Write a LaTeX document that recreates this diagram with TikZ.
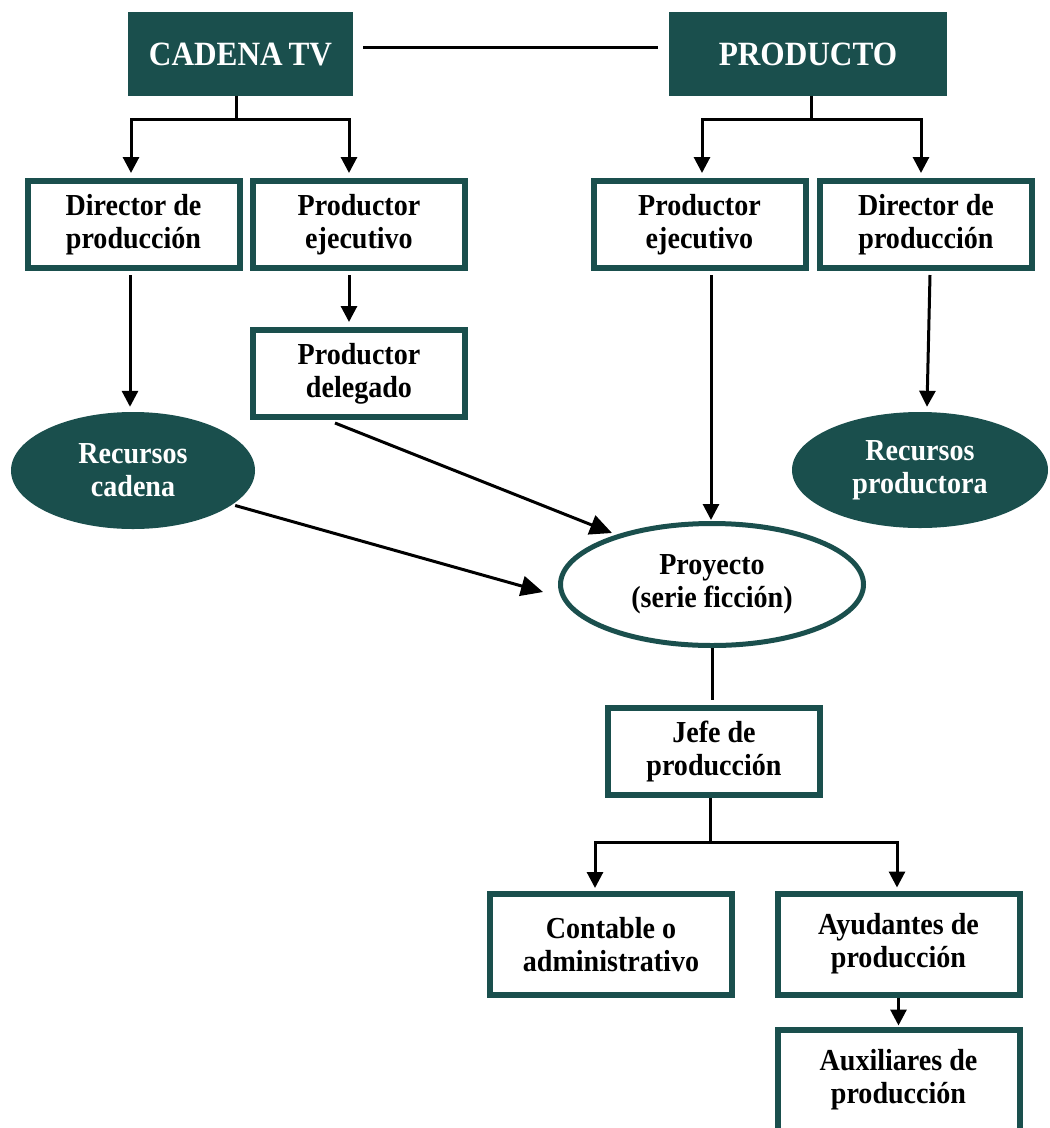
\documentclass[tikz,border=0pt]{standalone}
\usepackage{fontspec}
\setmainfont{Liberation Serif}
\newfontfamily\tallserif{Liberation Serif}[FakeStretch=0.92]
\usetikzlibrary{shapes.geometric,arrows.meta,calc}
\definecolor{orgteal}{RGB}{26,79,77}
\newcommand{\boxfont}{\tallserif\fontsize{30.5}{33}\selectfont\bfseries}
\newcommand{\headfont}{\tallserif\fontsize{34}{38}\selectfont\bfseries}
\begin{document}
\begin{tikzpicture}[x=1pt,y=-1pt,
  box/.style={draw=orgteal, line width=6pt, fill=white, inner sep=0pt,
    align=center, font=\boxfont, minimum width=212pt, minimum height=87pt},
  widebox/.style={box, minimum width=242pt, minimum height=101pt},
  head/.style={fill=orgteal, draw=none, text=white, inner sep=0pt,
    font=\headfont, minimum height=84pt},
  resource/.style={ellipse, fill=orgteal, draw=none, text=white, inner sep=0pt,
    align=center, font=\boxfont},
  project/.style={ellipse, draw=orgteal, line width=5pt, fill=white, inner sep=0pt,
    align=center, font=\boxfont, minimum width=303pt, minimum height=122pt},
  link/.style={draw=black, line width=3pt},
  arr/.style={link, -{Triangle[length=16pt,width=16pt]}},
  bigarr/.style={link, -{Triangle[length=22pt,width=20pt]}}]

\useasboundingbox (0,0) rectangle (1050,1128);
\clip (0,0) rectangle (1050,1128);
\fill[white] (0,0) rectangle (1050,1128);

% top level
\node[head, minimum width=225pt] (cad) at (240.5,54) {CADENA\kern-2pt\ TV};
\node[head, minimum width=278pt] (prod) at (808,54) {PRODUCTO};

% second level
\node[box] (dirL) at (133.5,224.5) {Director de\\producción};
\node[box] (ejeL) at (359,224.5) {Productor\\ejecutivo};
\node[box] (ejeR) at (699.5,224.5) {Productor\\ejecutivo};
\node[box] (dirR) at (926,224.5) {Director de\\producción};
\node[box] (deleg) at (359,373.5) {Productor\\delegado};

% resources and project
\node[resource, minimum width=244pt, minimum height=117pt] (recC) at (133,470.5) {Recursos\\cadena};
\node[resource, minimum width=256pt, minimum height=116pt] (recP) at (920,470) {Recursos\\productora};
\node[project] (proy) at (712,584.5) {Proyecto\\(serie ficción)};

% production team
\node[box] (jefe) at (714,751.5) {Jefe de\\producción};
\node[widebox] (cont) at (611,944.5) {Contable o\\administrativo};
\node[widebox] (ayud) at (898.5,944) {Ayudantes de\\producción};
\node[widebox] (aux) at (898.5,1080) {Auxiliares de\\producción};

% link between the two heads
\draw[link] ($(cad.east)+(10,-7)$) -- ($(prod.west)+(-11,-7)$);

% CADENA TV branches
\coordinate (cadJ) at ($(cad.south)+(-4.5,23)$);
\draw[link] ($(cad.south)+(-4.5,0)$) -- (cadJ);
\draw[arr] (cadJ) -| ($(dirL.north)+(-2.5,-5)$);
\draw[arr] (cadJ) -| ($(ejeL.north)+(-10,-5)$);

% PRODUCTO branches
\coordinate (prodJ) at ($(prod.south)+(3,23)$);
\draw[link] ($(prod.south)+(3,0)$) -- (prodJ);
\draw[arr] (prodJ) -| ($(ejeR.north)+(2.5,-5)$);
\draw[arr] (prodJ) -| ($(dirR.north)+(-5,-5)$);

% vertical links
\draw[arr] ($(dirL.south)+(-3.5,4)$) -- ($(recC.north)+(-3,-5)$);
\draw[arr] ($(ejeL.south)+(-10,4)$) -- ($(deleg.north)+(-10,-5)$);
\draw[arr] ($(ejeR.south)+(11.5,4)$) -- ($(proy.north)+(-1,-1)$);
\draw[arr] ($(dirR.south)+(4,4)$) -- ($(recP.north)+(7,-5)$);

% converging links to the project
\draw[bigarr] ($(deleg.south)+(-24,3)$) -- (612,533);
\draw[bigarr] ($(recC.east)+(-20,35)$) -- (543,592);

% project to head of production
\draw[link] (proy.south) -- ($(jefe.north)+(-2,-5)$);

% head of production branches
\coordinate (jefeJ) at ($(jefe.south)+(-4,44)$);
\draw[link] ($(jefe.south)+(-4,0)$) -- (jefeJ);
\draw[arr] (jefeJ) -| ($(cont.north)+(-16,-3)$);
\draw[arr] (jefeJ) -| ($(ayud.north)+(-1.5,-3)$);

\draw[arr] (ayud.south) -- ($(aux.north)+(0,-1)$);
\end{tikzpicture}
\end{document}
